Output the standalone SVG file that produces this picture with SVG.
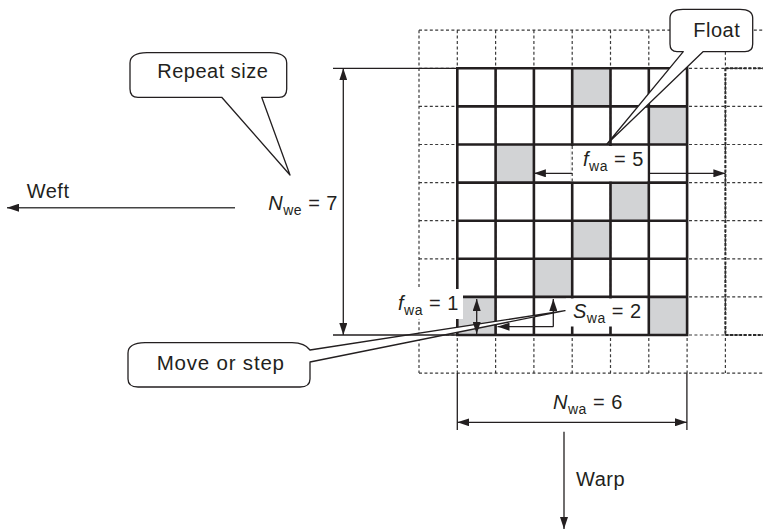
<svg xmlns="http://www.w3.org/2000/svg" width="763" height="531" viewBox="0 0 763 531">
<style>
  .dash{fill:none;stroke:#3a3a3a;stroke-width:1.2;stroke-dasharray:3 2.4}
  .dashb{fill:none;stroke:#2a2a2a;stroke-width:2;stroke-dasharray:3 1.6}
  .solid{fill:none;stroke:#231f20;stroke-width:2.6;stroke-linecap:square}
  .cell{fill:#d2d3d5}
  .lab{fill:#fff;stroke:none}
  .ln{fill:none;stroke:#231f20;stroke-width:1.3}
  .call{fill:#fff;stroke:#231f20;stroke-width:1.3;stroke-linejoin:round}
  text{font-family:"Liberation Sans",Arial,sans-serif;font-size:20px;fill:#231f20;letter-spacing:0.5px}
  .it{font-style:italic}
  .sub{font-size:14px}
  .arr{marker-end:url(#ah)}
  .arr2{marker-start:url(#ah);marker-end:url(#ah)}
</style>
<defs>
  <marker id="ah" viewBox="0 0 12 8" refX="12" refY="4" markerWidth="12" markerHeight="8" markerUnits="userSpaceOnUse" orient="auto-start-reverse">
    <path d="M0,0 L12,4 L0,8 Z" fill="#231f20"/>
  </marker>
</defs>
<rect width="763" height="531" fill="#fff"/>

<g id="weave-grid">
  <path class="dash" d="M419,30.2 H763 M419,68.3 H763 M419,106.4 H763 M419,144.5 H763 M419,182.6 H763 M419,220.7 H763 M419,258.8 H763 M419,296.9 H763 M419,335 H763 M419,373.1 H763
    M419,30.2 V373.1 M457.3,30.2 V373.1 M495.6,30.2 V373.1 M533.9,30.2 V373.1 M572.2,30.2 V373.1 M610.5,30.2 V373.1 M648.8,30.2 V373.1 M687.1,30.2 V373.1 M725.4,30.2 V373.1"/>
  <path class="dashb" d="M725.4,68.3 V335 M725.4,68.3 H763 M725.4,335 H763"/>
  <rect class="cell" x="572.2" y="68.3" width="38.3" height="38.1"/>
  <rect class="cell" x="648.8" y="106.4" width="38.3" height="38.1"/>
  <rect class="cell" x="495.6" y="144.5" width="38.3" height="38.1"/>
  <rect class="cell" x="610.5" y="182.6" width="38.3" height="38.1"/>
  <rect class="cell" x="572.2" y="220.7" width="38.3" height="38.1"/>
  <rect class="cell" x="533.9" y="258.8" width="38.3" height="38.1"/>
  <rect class="cell" x="457.3" y="296.9" width="38.3" height="38.1"/>
  <rect class="cell" x="648.8" y="296.9" width="38.3" height="38.1"/>
  <path class="solid" d="M457.3,68.3 H687.1 M457.3,106.4 H687.1 M457.3,144.5 H687.1 M457.3,182.6 H687.1 M457.3,220.7 H687.1 M457.3,258.8 H687.1 M457.3,296.9 H687.1 M457.3,335 H687.1
    M457.3,68.3 V335 M495.6,68.3 V335 M533.9,68.3 V335 M572.2,68.3 V335 M610.5,68.3 V335 M648.8,68.3 V335 M687.1,68.3 V335"/>
  <rect class="lab" x="570.6" y="146" width="76.9" height="35.3"/>
  <path class="dash" d="M572.2,146 V181.3"/>
  <rect class="lab" x="566" y="298.5" width="80" height="28"/>
  <rect class="lab" x="395" y="289" width="68" height="30"/>
</g>

<g id="callout-repeat-size">
  <path class="call" d="M221.7,97.3 L290,175 L261.7,97.3 L279,97.3 Q286.7,97.3 286.7,89 L286.7,63 Q286.7,53 270,52.7 L147,52.7 Q130,53 130,63 L130,89 Q130,97.3 138,97.3 Z"/>
  <text x="157.3" y="77.7">Repeat size</text>
</g>

<g id="callout-float">
  <path class="call" d="M683.3,51.7 L607,144 L703,51.7 L745,51.7 Q752.7,51.7 752.7,44 L752.7,18 Q752.7,9.3 740,9.3 L683,9.3 Q670,9.3 670,18 L670,44 Q670,51.7 677,51.7 Z"/>
  <text x="693.3" y="36.7">Float</text>
</g>

<g id="callout-move-or-step">
  <path class="call" d="M310,350 L565,310.7 L310,362 L310,379 Q310,387 300,387 L138,387 Q128,387 128,379 L128,353 Q128,343 145,342.7 L292,342.7 Q305,343 310,350 Z"/>
  <text x="156.7" y="370" style="font-size:20.5px;letter-spacing:0.8px">Move or step</text>
</g>

<g id="connectors">
  <path class="ln arr" d="M235,207.7 H7" style="stroke:#444;stroke-width:1.6"/>
  <path class="ln arr" d="M564,431.7 V529"/>
  <path class="ln" d="M333,68.3 H457.3 M333,335 H457.3 M457.3,373 V430 M686.9,373 V430"/>
  <path class="ln arr2" d="M343.3,68.3 V335"/>
  <path class="ln arr2" d="M457.3,422.3 H686.9"/>
  <path class="ln arr" d="M572.2,173.3 H533.9"/>
  <path class="ln arr" d="M648.8,173.3 H725.4"/>
  <path class="ln arr2" d="M476.7,299 V334"/>
  <path class="ln arr" d="M553.3,326.7 H497.5"/>
  <path class="ln arr" d="M553.3,326.7 V299"/>
</g>

<g id="labels">
  <text x="26.7" y="198.3">Weft</text>
  <text x="576" y="486">Warp</text>
  <text x="338" y="210" text-anchor="end"><tspan class="it">N</tspan><tspan class="sub" dy="5">we</tspan><tspan dy="-5"> = 7</tspan></text>
  <text x="553" y="409"><tspan class="it">N</tspan><tspan class="sub" dy="5">wa</tspan><tspan dy="-5"> = 6</tspan></text>
  <text x="583" y="166"><tspan class="it">f</tspan><tspan class="sub" dy="5">wa</tspan><tspan dy="-5"> = 5</tspan></text>
  <text x="398" y="310"><tspan class="it">f</tspan><tspan class="sub" dy="5">wa</tspan><tspan dy="-5"> = 1</tspan></text>
  <text x="573" y="318"><tspan class="it">S</tspan><tspan class="sub" dy="5">wa</tspan><tspan dy="-5"> = 2</tspan></text>
</g>
</svg>
